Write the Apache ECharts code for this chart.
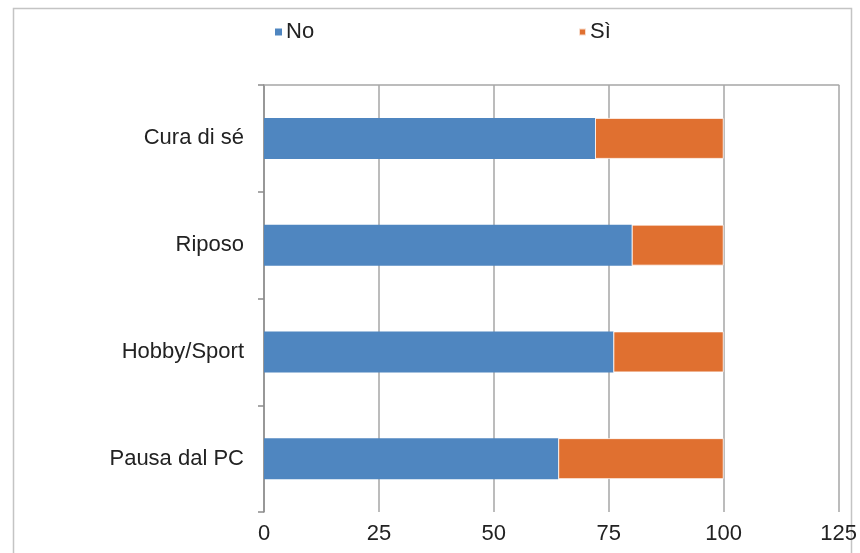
<!DOCTYPE html>
<html>
<head>
<meta charset="utf-8">
<script src="https://cdn.jsdelivr.net/npm/echarts@6/dist/echarts.min.js"></script>
<style>
  html, body { margin: 0; padding: 0; background: #fff; }
  #chart { width: 860px; height: 553px; }
</style>
</head>
<body>
<div id="chart"></div>
<script>
// Activities (top to bottom) and share of answers per activity
const categories = ['Cura di sé', 'Riposo', 'Hobby/Sport', 'Pausa dal PC'];
const seriesNames = ['No', 'Sì'];
const noValues = [72, 80, 76, 64];
const siValues = [28, 20, 24, 36];
const valueTicks = [0, 25, 50, 75, 100, 125];

const FONT = '"Liberation Sans", Arial, sans-serif';
const FONT_SIZE = 22;
const TEXT = '#222222';
const GRID_LINE = '#a6a6a6';
const BLUE = '#4f86c0';
const ORANGE = '#e07030';

const chart = echarts.init(document.getElementById('chart'));

chart.setOption({
  animation: false,
  backgroundColor: '#fff',
  textStyle: { fontFamily: FONT },
  graphic: [{
    type: 'rect',
    shape: { x: 13.5, y: 8.5, width: 838, height: 560 },
    style: { fill: 'none', stroke: '#c4c4c4', lineWidth: 1.5 },
    silent: true,
    z: -10
  }],
  legend: [
    {
      data: [seriesNames[0]],
      left: 270, top: 16,
      icon: 'rect', itemWidth: 7, itemHeight: 7, itemGap: 4,
      textStyle: { fontFamily: FONT, fontSize: FONT_SIZE, color: TEXT, padding: [0, 0, 0, -1] }
    },
    {
      data: [seriesNames[1]],
      left: 573, top: 16,
      icon: 'rect', itemWidth: 7, itemHeight: 7, itemGap: 4,
      textStyle: { fontFamily: FONT, fontSize: FONT_SIZE, color: TEXT, padding: [0, 0, 0, -1] }
    }
  ],
  grid: { left: 264, right: 20, top: 85, bottom: 41, containLabel: false },
  xAxis: [
    {
      type: 'value',
      min: valueTicks[0],
      max: valueTicks[valueTicks.length - 1],
      interval: valueTicks[1] - valueTicks[0],
      axisLine: { show: false },
      axisTick: { show: false },
      splitLine: { show: true, lineStyle: { color: GRID_LINE, width: 1.5 } },
      axisLabel: { fontFamily: FONT, fontSize: FONT_SIZE, color: TEXT, margin: 11 }
    },
    {
      type: 'value',
      position: 'top',
      min: valueTicks[0],
      max: valueTicks[valueTicks.length - 1],
      interval: valueTicks[1] - valueTicks[0],
      axisLine: { show: true, lineStyle: { color: GRID_LINE, width: 1.5 } },
      axisTick: { show: false },
      splitLine: { show: false },
      axisLabel: { show: false }
    }
  ],
  yAxis: {
    type: 'category',
    data: categories,
    inverse: true,
    axisLine: { show: true, lineStyle: { color: '#8c8c8c', width: 1.5 } },
    axisTick: { show: true, length: 6, lineStyle: { color: '#8c8c8c', width: 1.5 } },
    axisLabel: { fontFamily: FONT, fontSize: FONT_SIZE, color: TEXT, margin: 20 }
  },
  series: [
    {
      name: seriesNames[0],
      type: 'bar',
      stack: 'tot',
      barWidth: 41,
      data: noValues,
      itemStyle: { color: BLUE },
      z: 3
    },
    {
      name: seriesNames[1],
      type: 'bar',
      stack: 'tot',
      barWidth: 41,
      data: siValues,
      itemStyle: { color: ORANGE, borderColor: 'rgba(255,255,255,0.75)', borderWidth: 1 },
      z: 3
    }
  ]
});
</script>
</body>
</html>
